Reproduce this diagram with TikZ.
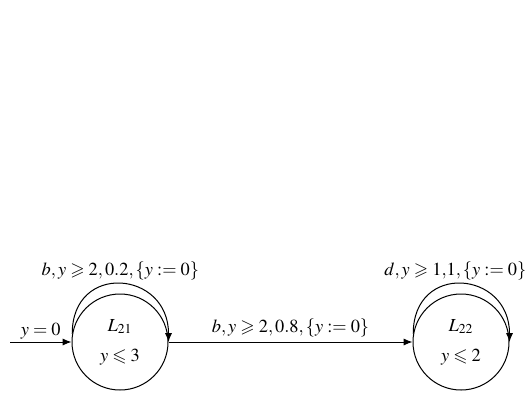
\documentclass[tikz,border=0pt]{standalone}
\usepackage{mathptmx}
\usepackage{amssymb}
\usetikzlibrary{arrows.meta, positioning}

\newcommand{\asg}{\mathrel{\mathop:}=}

\begin{document}
\begin{tikzpicture}[x=0.5pt, y=-0.5pt, >={Latex[length=4.5pt, width=3.6pt]}, line width=0.5pt,
    every node/.style={font=\fontsize{9.2}{11}\selectfont},
    loc/.style={circle, draw, minimum size=48pt, inner sep=0pt, align=center}]
      \useasboundingbox (0,0) rectangle (529,392);

      % Locations
      \node[loc] (l21) at (120,342) {$L_{21}$\\[4pt]$y \leqslant 3$};
      \node[loc] (l22) at (461,342) {$L_{22}$\\[4pt]$y \leqslant 2$};

      % Initial location
      \coordinate (init) at (10,342);
      \draw[->] (init) -- node[above, inner sep=1pt] {$y=0$} (l21.west);

      % Self loops
      \draw[->] (l21.170) to[out=90, in=90, looseness=1.9]
            node[above, inner sep=1.5pt] {$b, y \geqslant 2, 0.2, \{y \asg 0\}$} (l21.east);
      \draw[->] (l22.170) to[out=90, in=90, looseness=1.9]
            node[above, inner sep=1.5pt, xshift=-3pt] {$d, y \geqslant 1{,}1, \{y \asg 0\}$} (l22.east);

      % Transition L21 -> L22
      \draw[->] (l21.east) -- node[above, inner sep=2pt] {$b, y \geqslant 2, 0.8, \{y \asg 0\}$} (l22.west);
    \end{tikzpicture}
\end{document}
